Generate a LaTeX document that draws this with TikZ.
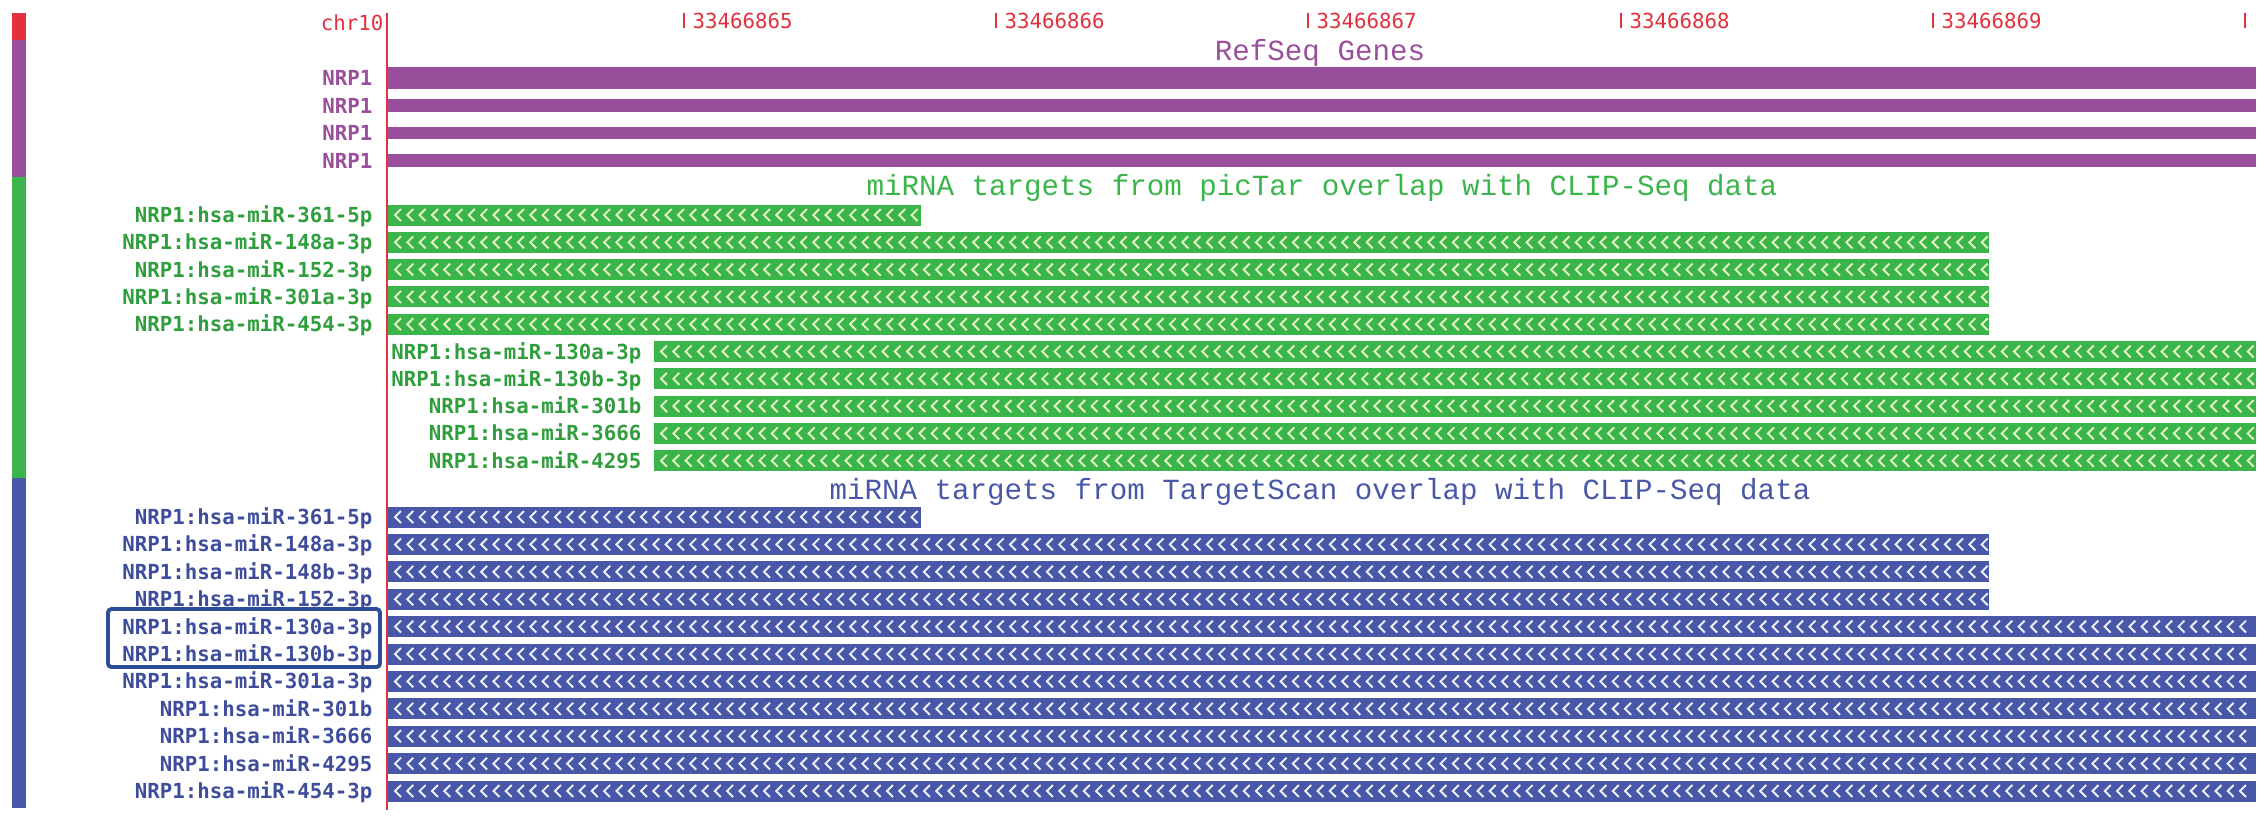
\documentclass[tikz,border=0pt]{standalone}
\usepackage{fontspec}
\newfontfamily\trackfont{DejaVu Sans Mono}[BoldFont={DejaVu Sans Mono Bold}]
\newfontfamily\titlefont{Liberation Mono}
\usetikzlibrary{positioning}

\definecolor{chrred}{HTML}{E0313C}
\definecolor{refseq}{HTML}{9A4F9C}
\definecolor{pictar}{HTML}{3AB54A}
\definecolor{pictarlab}{HTML}{2F9E3C}
\definecolor{pictarchev}{HTML}{E4F4C4}
\definecolor{tscan}{HTML}{4957A8}
\definecolor{tscanlab}{HTML}{3E4C9C}
\definecolor{tscanchev}{HTML}{EEF0FA}
\definecolor{boxblue}{HTML}{2C4E98}

\newcommand{\chev}[4]{%
  \pgfmathtruncatemacro{\nchev}{(#3-#2-14)/12.3}%
  \draw[chevline, #4] foreach \k in {0,...,\nchev} {
    ({#2+7+12.3*\k+6},{#1-6}) -- ({#2+7+12.3*\k},{#1}) -- ({#2+7+12.3*\k+6},{#1+6})
  };
}

\begin{document}
\begin{tikzpicture}[x=0.01cm, y=-0.01cm,
  lab/.style={font=\trackfont\bfseries\fontsize{5.9}{6}\selectfont, inner sep=0pt, anchor=mid east},
  rul/.style={font=\trackfont\fontsize{5.9}{6}\selectfont, inner sep=0pt, text=chrred},
  ttl/.style={font=\titlefont\fontsize{8.3}{9}\selectfont, inner sep=0pt},
  chevline/.style={line width=0.55pt, line cap=butt, line join=miter}]

\useasboundingbox (0,0) rectangle (2268,820);

\fill[chrred] (12,13) rectangle (26,40);
\fill[refseq] (12,40) rectangle (26,177);
\fill[pictar] (12,177) rectangle (26,478);
\fill[tscan] (12,478) rectangle (26,808);

% ruler
\draw[chrred, line width=0.5pt] (387,13) -- (387,810);
\node[rul, anchor=mid east] (chr) at (384,23) {chr10};
\foreach \i/\x/\num in {1/684/33466865, 2/996/33466866, 3/1308/33466867, 4/1621/33466868, 5/1933/33466869} {
  \draw[chrred, line width=0.5pt] (\x,13) -- (\x,28);
  \node[rul, anchor=mid west] (t\i) at (\x+8,21) {\num};
}
\draw[chrred, line width=0.5pt] (2245,13) -- (2245,28);

% refseq
\node[ttl, text=refseq] (refttl) at (1320,53) {RefSeq Genes};
\foreach \i/\ya/\yb in {1/67/89, 2/99/112, 3/127/139, 4/154/167} {
  \fill[refseq] (388,\ya) rectangle (2256,\yb);
  \node[lab, text=refseq] (g\i) at (373,{(\ya+\yb)/2}) {NRP1};
}

% picTar
\node[ttl, text=pictar] (pttl) at (1322,188) {miRNA targets from picTar overlap with CLIP-Seq data};
\foreach \i/\mir/\lx/\xa/\xb in {1/361-5p/373/388/921, 2/148a-3p/373/388/1989, 3/152-3p/373/388/1989,
    4/301a-3p/373/388/1989, 5/454-3p/373/388/1989, 6/130a-3p/642/654/2256, 7/130b-3p/642/654/2256,
    8/301b/642/654/2256, 9/3666/642/654/2256, 10/4295/642/654/2256} {
  \pgfmathsetmacro{\yc}{215+27.3*(\i-1)}
  \fill[pictar] (\xa,\yc-10.5) rectangle (\xb,\yc+10.5);
  \chev{\yc}{\xa}{\xb}{pictarchev}
  \node[lab, text=pictarlab] (p\i) at (\lx,\yc) {NRP1:hsa-miR-\mir};
}

% TargetScan
\node[ttl, text=tscan] (sttl) at (1320,492) {miRNA targets from TargetScan overlap with CLIP-Seq data};
\foreach \i/\mir/\xb in {1/361-5p/921, 2/148a-3p/1989, 3/148b-3p/1989, 4/152-3p/1989, 5/130a-3p/2256,
    6/130b-3p/2256, 7/301a-3p/2256, 8/301b/2256, 9/3666/2256, 10/4295/2256, 11/454-3p/2256} {
  \pgfmathsetmacro{\yc}{517+27.4*(\i-1)}
  \fill[tscan] (388,\yc-10.5) rectangle (\xb,\yc+10.5);
  \chev{\yc}{388}{\xb}{tscanchev}
  \node[lab, text=tscanlab] (s\i) at (373,\yc) {NRP1:hsa-miR-\mir};
}

\draw[boxblue, line width=1.1pt, rounded corners=1pt] (108,609) rectangle (380,667);

\end{tikzpicture}
\end{document}
